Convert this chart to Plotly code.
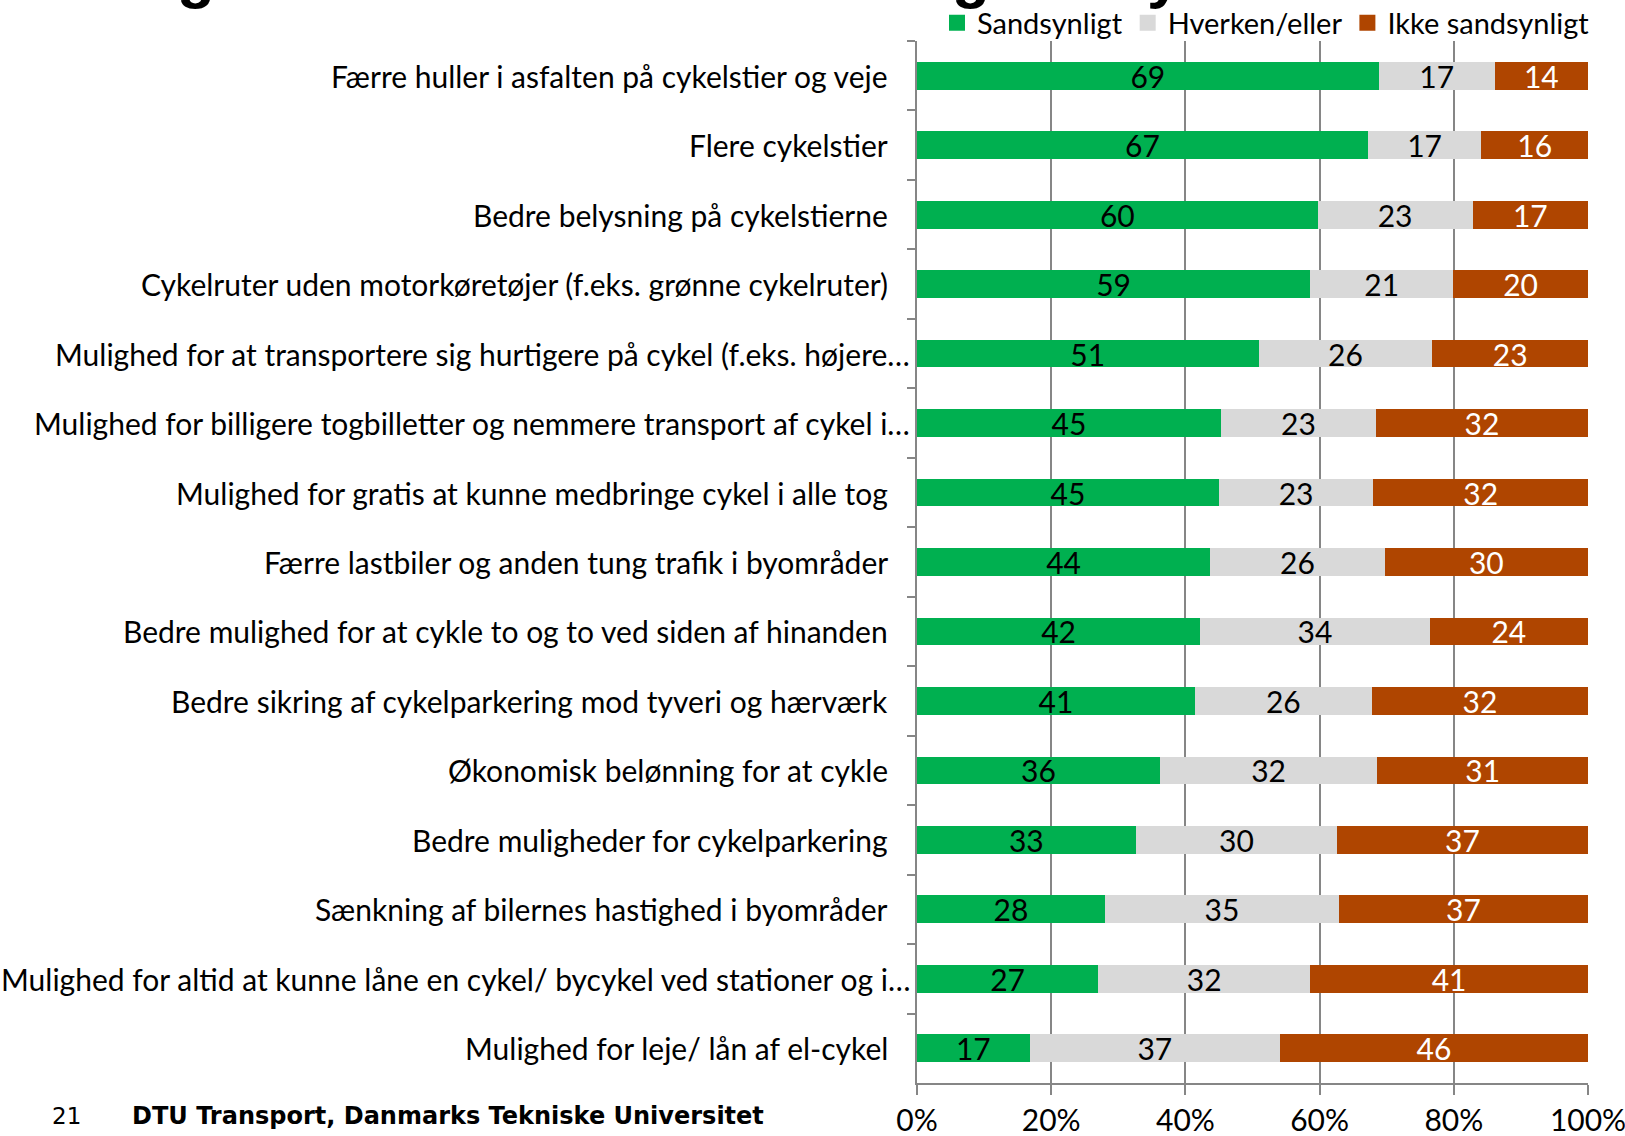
import plotly.graph_objects as go

categories = [
    "Færre huller i asfalten på cykelstier og veje",
    "Flere cykelstier",
    "Bedre belysning på cykelstierne",
    "Cykelruter uden motorkøretøjer (f.eks. grønne cykelruter)",
    "Mulighed for at transportere sig hurtigere på cykel (f.eks. højere…",
    "Mulighed for billigere togbilletter og nemmere transport af cykel i…",
    "Mulighed for gratis at kunne medbringe cykel i alle tog",
    "Færre lastbiler og anden tung trafik i byområder",
    "Bedre mulighed for at cykle to og to ved siden af hinanden",
    "Bedre sikring af cykelparkering mod tyveri og hærværk",
    "Økonomisk belønning for at cykle",
    "Bedre muligheder for cykelparkering",
    "Sænkning af bilernes hastighed i byområder",
    "Mulighed for altid at kunne låne en cykel/ bycykel ved stationer og i…",
    "Mulighed for leje/ lån af el-cykel",
]

sandsynligt = [68.8, 67.2, 59.7, 58.6, 50.9, 45.3, 45.0, 43.7, 42.2, 41.4, 36.2, 32.6, 28.0, 27.0, 16.8]
hverken = [17.3, 16.9, 23.1, 21.3, 25.9, 23.1, 23.0, 26.0, 34.2, 26.4, 32.4, 30.0, 34.9, 31.6, 37.3]
ikke = [13.9, 15.9, 17.2, 20.1, 23.2, 31.6, 32.0, 30.3, 23.6, 32.2, 31.4, 37.4, 37.1, 41.4, 45.9]

series_names = ["Sandsynligt", "Hverken/eller", "Ikke sandsynligt"]
series_values = [sandsynligt, hverken, ikke]
series_colors = ["#00B050", "#D9D9D9", "#AF4500"]
text_colors = ["#000000", "#000000", "#FFFFFF"]

x_ticks = [0, 20, 40, 60, 80, 100]
x_tick_labels = ["0%", "20%", "40%", "60%", "80%", "100%"]
footer_page = "21"
footer_text = "DTU Transport, Danmarks Tekniske Universitet"

W, H = 1625, 1136
ML, MR, MT, MB = 917, 37, 41, 53
PW, PH = W - ML - MR, H - MT - MB


def px_x(px):
    return (px - ML) / PW


def px_y(py):
    return (H - MB - py) / PH


FONT = "Lato, Calibri, Carlito, sans-serif"
FS = 30
FOOT = "'DejaVu Sans', Verdana, sans-serif"
ARIAL = "'Liberation Sans', Arial, sans-serif"
GRID = "#868686"

fig = go.Figure()
for name, vals, col, tcol in zip(series_names, series_values, series_colors, text_colors):
    fig.add_trace(go.Bar(
        y=categories, x=vals, name=name, orientation="h",
        marker=dict(color=col, line=dict(width=0)),
        text=vals, texttemplate="%{x:.0f}", textposition="inside",
        insidetextanchor="middle", constraintext="none", textangle=0,
        textfont=dict(family=FONT, size=FS, color=tcol),
        showlegend=False, hoverinfo="skip",
    ))
    fig.add_trace(go.Scatter(
        x=[None], y=[None], mode="markers", name=name,
        marker=dict(symbol="square", size=18, color=col),
        showlegend=True,
    ))

annotations = []
for c in categories:
    shift = -5 if c.endswith("…") else -27
    annotations.append(dict(
        x=0, xref="paper", y=c, yref="y", text=c, showarrow=False,
        xanchor="right", yanchor="middle", xshift=shift,
        font=dict(family=FONT, size=FS, color="#000000"),
    ))

annotations.append(dict(
    x=px_x(50), xref="paper", y=px_y(1116), yref="paper",
    text=footer_page, showarrow=False, xanchor="left", yanchor="middle",
    font=dict(family=FOOT, size=23, color="#000000"),
))
annotations.append(dict(
    x=px_x(130), xref="paper", y=px_y(1116), yref="paper",
    text="<b>" + footer_text + "</b>", showarrow=False, xanchor="left", yanchor="middle",
    font=dict(family=FOOT, size=24, color="#000000"),
))

# cropped title fragments (descenders peeking at the top edge)
for ch, xc in [("g", 196), ("g", 971), ("y", 1164)]:
    annotations.append(dict(
        x=px_x(xc), xref="paper", y=px_y(10), yref="paper",
        text="<b>" + ch + "</b>", showarrow=False, xanchor="center", yanchor="bottom",
        borderpad=0,
        font=dict(family=ARIAL, size=62, color="#000000"),
    ))

fig.update_layout(
    barmode="stack",
    bargap=0.6,
    width=W, height=H,
    margin=dict(l=ML, r=MR, t=MT, b=MB, pad=0, autoexpand=False),
    paper_bgcolor="white", plot_bgcolor="white",
    font=dict(family=FONT, size=FS, color="#000000"),
    legend=dict(
        orientation="h", xref="container", yref="container",
        x=937 / W, y=1 - 23 / H, xanchor="left", yanchor="middle",
        font=dict(family=FONT, size=29, color="#000000"),
        bgcolor="rgba(0,0,0,0)", itemwidth=30, tracegroupgap=0,
        traceorder="normal", borderwidth=0,
    ),
    xaxis=dict(
        range=[0, 100], tickvals=x_ticks, ticktext=x_tick_labels,
        showgrid=True, gridcolor=GRID, gridwidth=1.5,
        showline=True, linecolor=GRID, linewidth=1.5,
        ticks="outside", ticklen=10, tickcolor=GRID, tickwidth=1.5,
        tickfont=dict(family=FONT, size=FS, color="#000000"),
        ticklabeloverflow="allow",
        zeroline=False, fixedrange=True,
    ),
    yaxis=dict(
        categoryorder="array", categoryarray=categories, autorange="reversed",
        showticklabels=False, showgrid=False,
        showline=True, linecolor=GRID, linewidth=1.5,
        ticks="outside", tickson="boundaries", ticklen=8, tickcolor=GRID, tickwidth=1.5,
        zeroline=False, fixedrange=True,
    ),
    annotations=annotations,
)

fig.write_html(
    "out.html",
    config={"displayModeBar": False},
    post_script="document.body.style.margin='0';document.body.style.overflow='hidden';",
)
